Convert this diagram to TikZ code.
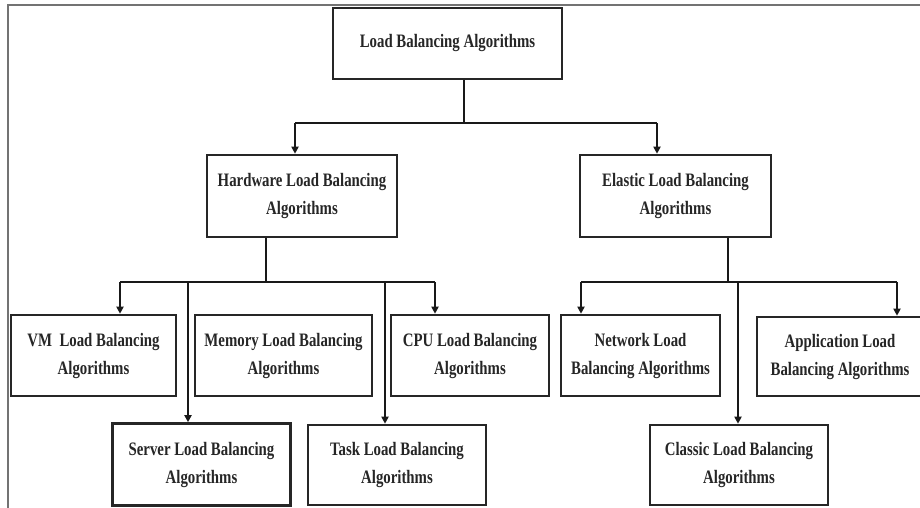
\documentclass[tikz,border=0pt]{standalone}
\usepackage{fontspec}
\setmainfont{Liberation Serif}
\newfontfamily\boxfont[FakeStretch=0.78]{Liberation Serif}
\usetikzlibrary{arrows.meta}
\begin{document}
\begin{tikzpicture}[x=1pt,y=-1pt,
  box/.style={draw=black!85, line width=2.6pt, align=center, inner sep=0pt,
    font=\boxfont\bfseries\fontsize{19}{28}\selectfont, text=black!85},
  link/.style={line width=2pt, draw=black!90},
  arr/.style={link, -{Triangle[width=7pt,length=7pt]}},
  frame/.style={line width=1.5pt, draw=black!55}]
\useasboundingbox (0,0) rectangle (920,507);

% outer frame (left and top edges)
\draw[frame] (8,510) -- (8,5) -- (925,5);

% top level
\node[box, minimum width=229pt, minimum height=71pt] (root) at (447.5,43.5) {Load Balancing Algorithms};

% second level
\node[box, minimum width=190pt, minimum height=82pt] (hw) at (302,196) {Hardware Load Balancing\\Algorithms};
\node[box, minimum width=191pt, minimum height=82pt] (el) at (675.5,196) {Elastic Load Balancing\\Algorithms};

% third level, upper row
\node[box, minimum width=165pt, minimum height=81pt] (vm)  at (93.5,355.5) {VM\ \ Load Balancing\\Algorithms};
\node[box, minimum width=177pt, minimum height=81pt] (mem) at (283.5,355.5) {Memory Load Balancing\\Algorithms};
\node[box, minimum width=158pt, minimum height=81pt] (cpu) at (470,355.5) {CPU Load Balancing\\Algorithms};
\node[box, minimum width=159pt, minimum height=81pt] (net) at (640.5,355.5) {Network Load\\Balancing Algorithms};
\node[box, minimum width=166pt, minimum height=79pt] (app) at (840,356.5) {Application Load\\Balancing Algorithms};

% third level, lower row
\node[box, minimum width=178pt, minimum height=82pt] (srv)  at (201.5,464.5) {Server Load Balancing\\Algorithms};
\node[box, minimum width=178pt, minimum height=80pt] (task) at (397,465) {Task Load Balancing\\Algorithms};
\node[box, minimum width=178pt, minimum height=80pt] (cls)  at (739,465) {Classic Load Balancing\\Algorithms};

% bus points
\coordinate (rs) at (464,123);
\coordinate (rl) at (295,123);
\coordinate (rr) at (657,123);
\coordinate (hs) at (266,282);
\coordinate (h1) at (120,282);
\coordinate (h2) at (188,282);
\coordinate (h3) at (385,282);
\coordinate (h4) at (435,282);
\coordinate (es) at (728,282);
\coordinate (e1) at (581,282);
\coordinate (e2) at (738,282);
\coordinate (e3) at (897,282);

% root to second level
\draw[link] (root.south -| rs) -- (rs);
\draw[link] (rl) -- (rr);
\draw[arr] (rl) -- (rl |- hw.north);
\draw[arr] (rr) -- (rr |- el.north);

% hardware branch
\draw[link] (hw.south -| hs) -- (hs);
\draw[link] (h1) -- (h4);
\draw[arr] (h1) -- (h1 |- vm.north);
\draw[arr] (h2) -- (h2 |- srv.north);
\draw[arr] (h3) -- (h3 |- task.north);
\draw[arr] (h4) -- (h4 |- cpu.north);

% elastic branch
\draw[link] (el.south -| es) -- (es);
\draw[link] (e1) -- (e3);
\draw[arr] (e1) -- (e1 |- net.north);
\draw[arr] (e2) -- (e2 |- cls.north);
\draw[arr] (e3) -- (e3 |- app.north);
\end{tikzpicture}
\end{document}
